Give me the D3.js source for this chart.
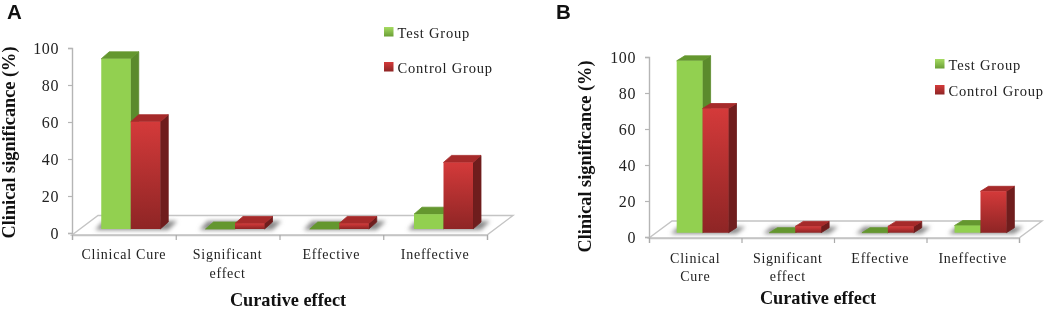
<!DOCTYPE html>
<html>
<head>
	<meta charset="utf-8">
	<title>Curative effect, panels A and B</title>
	<script src="https://d3js.org/d3.v7.min.js"></script>
	<style type="text/css">
	body{margin:0; background:#fff;}
	svg{display:block; filter:blur(0.35px);}
	text{font-family:"Liberation Serif",serif; fill:#222;}
	.tick text{font-size:16px; letter-spacing:0.6px;}
	.cat{font-size:14px; letter-spacing:0.75px; text-anchor:middle;}
	.legend-label{font-size:14.5px; letter-spacing:0.8px;}
	.axis-title{font-size:18.3px; font-weight:bold; fill:#111; text-anchor:middle;}
	.panel-label{font-family:"Liberation Sans",sans-serif; font-size:20.5px; font-weight:bold; fill:#111;}
	</style>
</head>
<body>
<div id="viz"></div>
<script type="text/javascript">

var seriesNames = ['Test Group', 'Control Group'];
var yTicks = [0, 20, 40, 60, 80, 100];

var categoriesA = [['Clinical Cure'], ['Significant', 'effect'], ['Effective'], ['Ineffective']];
var testA = [92, 0, 0, 8];
var controlA = [58, 3, 3, 36];

var categoriesB = [['Clinical', 'Cure'], ['Significant', 'effect'], ['Effective'], ['Ineffective']];
var testB = [95.5, 0, 0, 4];
var controlB = [69, 3.5, 3.5, 23];

// front faces and sides, [front/top colour, side colour, top colour]
var greenFill = ['#92d050', '#5b8a2c', '#64972f'];
var redFill = ['url(#redFront)', '#6f1d1d', '#a62a2a'];

var svg = d3.select('#viz').append('svg')
	.attr('width', 1045)
	.attr('height', 309);

var defs = svg.append('defs');

var grad = defs.append('linearGradient')
	.attr('id', 'redFront')
	.attr('x1', 0).attr('x2', 0).attr('y1', 0).attr('y2', 1);
grad.append('stop').attr('offset', '0%').attr('stop-color', '#d43a3a');
grad.append('stop').attr('offset', '100%').attr('stop-color', '#8e2525');

var grad2 = defs.append('linearGradient')
	.attr('id', 'greenSwatch')
	.attr('x1', 0).attr('x2', 0).attr('y1', 0).attr('y2', 1);
grad2.append('stop').attr('offset', '0%').attr('stop-color', '#a6dc62');
grad2.append('stop').attr('offset', '100%').attr('stop-color', '#6a9e36');

defs.append('filter').attr('id', 'soft')
	.attr('x', '-30%').attr('y', '-80%').attr('width', '160%').attr('height', '260%')
	.append('feGaussianBlur').attr('stdDeviation', 2.2);

function poly(g, pts, fill){
	return g.append('polygon')
		.attr('points', pts.map(function(p){ return p.join(','); }).join(' '))
		.attr('fill', fill);
}

function drawBar(g, x0, w, yTop, yBase, dx, dy, fill){
	var x1 = x0 + w;
	// side
	poly(g, [[x1, yTop], [x1 + dx, yTop - dy], [x1 + dx, yBase - dy], [x1, yBase]], fill[1])
		.attr('stroke', fill[1]).attr('stroke-width', 0.8).attr('stroke-linejoin', 'round');
	// top
	poly(g, [[x0, yTop], [x1, yTop], [x1 + dx, yTop - dy], [x0 + dx, yTop - dy]], fill[2])
		.attr('stroke', fill[2]).attr('stroke-width', 0.8).attr('stroke-linejoin', 'round');
	// front
	if (yBase - yTop > 0.5) {
		poly(g, [[x0, yTop], [x1, yTop], [x1, yBase], [x0, yBase]], fill[0]);
	}
}

function drawPanel(p){
	var g = svg.append('g');

	var y = d3.scaleLinear().domain([0, 100]).range([p.y0, p.y100]);
	var xAxisScale = d3.scaleLinear().domain([0, 4]).range([p.left, p.right]);
	var xBars = d3.scaleBand().domain(d3.range(4)).range([p.left, p.barRight]);
	var ticksX = [0, 1, 2, 3, 4];

	// floor of the 3d plot
	poly(g, [[p.left, p.floorFront], [p.right, p.floorFront], [p.right + p.floorDx, p.floorBack], [p.left + p.floorDx, p.floorBack]], '#fff')
		.attr('stroke', '#c4c4c4')
		.attr('stroke-width', 1.4);

	// y axis
	var yG = g.append('g')
		.attr('transform', 'translate(' + p.left + ',0)')
		.call(d3.axisLeft(y).tickValues(yTicks).tickSize(4).tickPadding(9));
	yG.selectAll('path').attr('stroke', '#b5b5b5').attr('stroke-width', 1.4);
	yG.selectAll('line').attr('stroke', '#b5b5b5').attr('stroke-width', 1.2);
	yG.selectAll('text').attr('fill', '#222');

	// x axis only gives the ticks, labels are two-line so they come after
	var xG = g.append('g')
		.attr('transform', 'translate(0,' + p.floorFront + ')')
		.call(d3.axisBottom(xAxisScale).tickValues(ticksX).tickSize(5).tickFormat(''));
	xG.selectAll('path').attr('stroke', '#c4c4c4').attr('stroke-width', 1.4);
	xG.selectAll('line').attr('stroke', '#aaa').attr('stroke-width', 1.2);

	var barBase = y(0) - p.lift;

	// soft shadows on the floor
	p.categories.forEach(function(c, i){
		var x0 = xBars(i) + p.barOffset;
		poly(g, [[x0 - 6, barBase + 1], [x0 + 2 * p.barW + 8, barBase + 1], [x0 + 2 * p.barW + p.dx + 9, barBase - p.dy - 1], [x0 + 2, barBase - p.dy - 1]], '#8a8a8a')
			.attr('filter', 'url(#soft)');
	});

	p.categories.forEach(function(c, i){
		var x0 = xBars(i) + p.barOffset;
		drawBar(g, x0, p.barW, y(p.test[i]) - p.lift, barBase, p.dx, p.dy, greenFill);
		drawBar(g, x0 + p.barW, p.barW, y(p.control[i]) - p.lift, barBase, p.dx, p.dy, redFill);
	});

	// category labels
	p.categories.forEach(function(lines, i){
		var t = g.append('text')
			.attr('class', 'cat')
			.attr('y', p.catY);
		lines.forEach(function(l, j){
			t.append('tspan')
				.attr('x', (xAxisScale(i) + xAxisScale(i + 1)) / 2)
				.attr('dy', j == 0 ? 0 : 18.5)
				.text(l);
		});
	});

	g.append('text')
		.attr('class', 'axis-title')
		.attr('x', p.titleX)
		.attr('y', p.titleY)
		.text('Curative effect');

	g.append('text')
		.attr('class', 'axis-title')
		.attr('transform', 'translate(' + p.yTitleX + ',' + p.yTitleY + ') rotate(-90)')
		.text('Clinical significance (%)');

	g.append('text')
		.attr('class', 'panel-label')
		.attr('x', p.labelX)
		.attr('y', 19)
		.text(p.label);

	// legend
	seriesNames.forEach(function(name, i){
		g.append('rect')
			.attr('x', p.legendX)
			.attr('y', p.legendY[i])
			.attr('width', 9.5)
			.attr('height', 9.5)
			.attr('fill', i == 0 ? 'url(#greenSwatch)' : 'url(#redFront)');
		g.append('text')
			.attr('class', 'legend-label')
			.attr('x', p.legendX + 13.5)
			.attr('y', p.legendY[i] + 10.5)
			.text(name);
	});
}

drawPanel({
	label: 'A', labelX: 7,
	categories: categoriesA, test: testA, control: controlA,
	left: 72, right: 487, barRight: 489,
	y0: 233, y100: 48, lift: 4,
	floorFront: 235, floorBack: 215.5, floorDx: 26,
	barOffset: 29.25, barW: 29.5, dx: 8, dy: 7,
	catY: 259,
	titleX: 288, titleY: 306,
	yTitleX: 15, yTitleY: 142.5,
	legendX: 384, legendY: [27, 62]
});

drawPanel({
	label: 'B', labelX: 556,
	categories: categoriesB, test: testB, control: controlB,
	left: 649, right: 1019, barRight: 1019.5,
	y0: 237, y100: 57, lift: 4.3,
	floorFront: 238, floorBack: 221, floorDx: 23,
	barOffset: 27.7, barW: 25.9, dx: 8, dy: 5,
	catY: 262.5,
	titleX: 818, titleY: 304,
	yTitleX: 591, yTitleY: 156.5,
	legendX: 935, legendY: [59, 85]
});

</script>
</body>
</html>
